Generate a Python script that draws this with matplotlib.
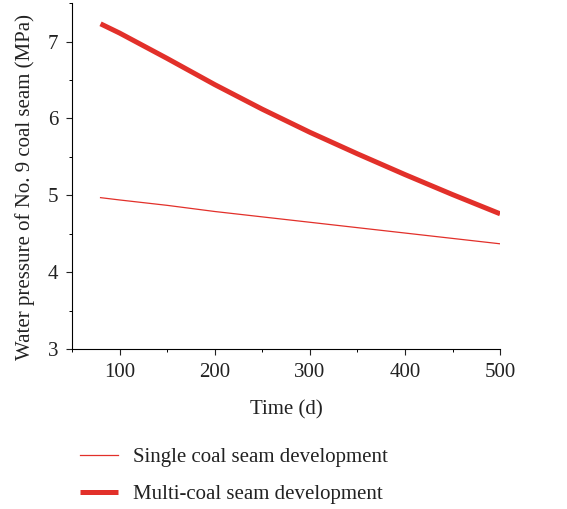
import numpy as np
import matplotlib.pyplot as plt
from matplotlib.ticker import MultipleLocator

plt.rcParams['font.family'] = ['Liberation Serif', 'DejaVu Serif']

# water pressure of No. 9 seam over time (d, MPa)
time_d = [80, 100, 150, 200, 250, 300, 350, 400, 450, 500]
single_seam = [4.97, 4.94, 4.87, 4.79, 4.72, 4.65, 4.58, 4.51, 4.44, 4.37]
multi_seam = [7.23, 7.11, 6.78, 6.44, 6.12, 5.82, 5.54, 5.27, 5.01, 4.76]

labels = ['Single coal seam development', 'Multi-coal seam development']
red = '#e2302a'
ink = '#222222'


def main():
    fig = plt.figure(figsize=(5.67, 5.09), dpi=100)
    ax = fig.add_axes([0.127, 0.314, 0.755, 0.68])

    l1, = ax.plot(time_d, single_seam, color=red, lw=0.9)
    l2, = ax.plot(time_d, multi_seam, color=red, lw=3.6, solid_capstyle='butt')

    ax.set_xlim(50, 500)
    ax.set_ylim(3, 7.5)
    ax.xaxis.set_major_locator(MultipleLocator(100))
    ax.xaxis.set_minor_locator(MultipleLocator(50))
    ax.yaxis.set_major_locator(MultipleLocator(1))
    ax.yaxis.set_minor_locator(MultipleLocator(0.5))
    ax.tick_params(which='major', direction='out', length=4, width=0.8,
                   labelsize=15, colors=ink, pad=6)
    ax.tick_params(which='minor', direction='out', length=2.5, width=0.7)
    ax.spines['top'].set_visible(False)
    ax.spines['right'].set_visible(False)

    ax.set_xlabel('Time (d)', fontsize=15, labelpad=13, color=ink)
    ax.set_ylabel('Water pressure of No. 9 coal seam (MPa)', fontsize=15,
                  color=ink)
    ax.yaxis.set_label_coords(-0.086, 0.468)

    fig.legend([l1, l2], labels, loc='upper left',
               bbox_to_anchor=(0.141, 0.121), frameon=False, fontsize=15,
               handlelength=1.85, handletextpad=0.7, labelspacing=0.85,
               borderaxespad=0, borderpad=0, labelcolor=ink)

    fig.savefig('out.png', dpi=100)


if __name__ == '__main__':
    main()
